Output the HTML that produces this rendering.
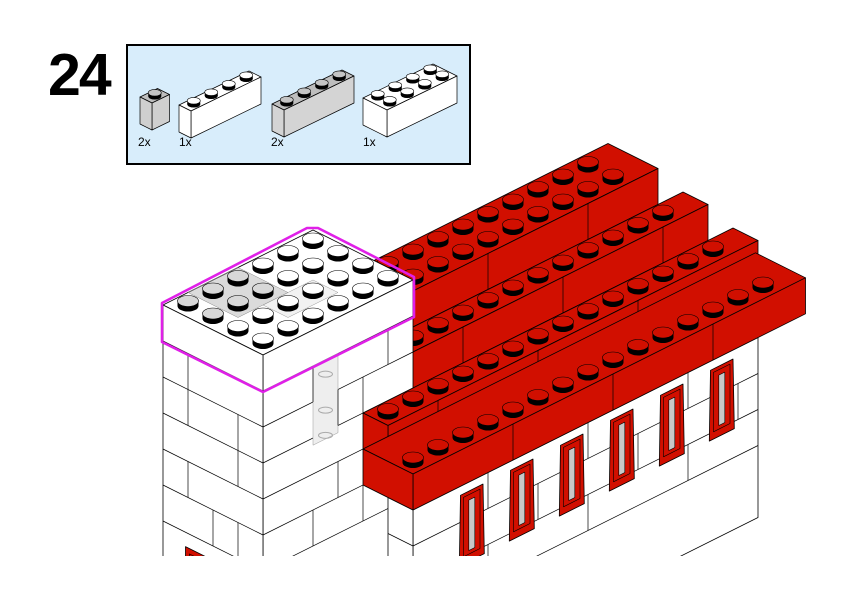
<!DOCTYPE html>
<html><head><meta charset="utf-8"><style>
html,body{margin:0;padding:0;background:#fff;width:842px;height:596px;overflow:hidden}
svg{display:block}
text{font-family:"Liberation Sans",Arial,sans-serif}
</style></head><body>
<svg id="s" width="842" height="596" viewBox="0 0 842 596" xmlns="http://www.w3.org/2000/svg">
<rect width="842" height="596" fill="#fff"/>
<text x="48" y="95" font-size="59" font-weight="bold" letter-spacing="-2">24</text>
<rect x="127" y="45" width="343" height="119" fill="#d8edfb" stroke="#000" stroke-width="2"/>
<g id="parts"></g>
<text x="138" y="146" font-size="12">2x</text>
<text x="179" y="146" font-size="12">1x</text>
<text x="271" y="146" font-size="12">2x</text>
<text x="363" y="146" font-size="12">1x</text>
<defs><clipPath id="cp"><rect x="0" y="0" width="842" height="556"/></clipPath></defs>
<g id="model" clip-path="url(#cp)"></g>
</svg>
<script>
var NS="http://www.w3.org/2000/svg";
function el(par,tag,at){var e=document.createElementNS(NS,tag);for(var k in at)e.setAttribute(k,at[k]);par.appendChild(e);return e;}
function pts(a){return a.map(function(p){return p[0].toFixed(1)+","+p[1].toFixed(1)}).join(" ");}
function poly(g,a,fill,sw,stroke){return el(g,"polygon",{points:pts(a),fill:fill,stroke:stroke||"#000","stroke-width":sw||0.8,"stroke-linejoin":"round"});}
function line(g,p,q,sw,c){el(g,"line",{x1:p[0],y1:p[1],x2:q[0],y2:q[1],stroke:c||"#000","stroke-width":sw||0.7});}
function stud(g,x,y,rx,ry,h,col){
  el(g,"ellipse",{cx:x,cy:y,rx:rx,ry:ry,fill:"#000"});
  el(g,"rect",{x:x-rx,y:y-h,width:2*rx,height:h,fill:"#000"});
  el(g,"ellipse",{cx:x,cy:y-h,rx:rx,ry:ry,fill:col,stroke:"#000","stroke-width":0.6});
}
/* ---------- main model ---------- */
var M=document.getElementById("model");
function P(a,b,h){return [263+25*a-25*b,355-12.5*a-12.5*b-36*h];}
function box(g,a0,a1,b0,b1,h0,h1,fill,topfill,leftfill){
  poly(g,[P(a0,b0,h1),P(a1,b0,h1),P(a1,b1,h1),P(a0,b1,h1)],topfill||fill);
  poly(g,[P(a0,b0,h0),P(a1,b0,h0),P(a1,b0,h1),P(a0,b0,h1)],fill);
  poly(g,[P(a0,b0,h0),P(a0,b1,h0),P(a0,b1,h1),P(a0,b0,h1)],leftfill||fill);
}
function mstud(g,a,b,h,col){var c=P(a,b,h);stud(g,c[0],c[1]+1,10.5,5.5,5,col);}
var RED="#d10f00";
function step(a1,b0,b1,h0,seams,rows){
  box(M,4,a1,b0,b1,h0,h0+1,RED);
  seams.forEach(function(s){line(M,P(s,b0,h0),P(s,b0,h0+1));});
  for(var r=0;r<rows;r++){
    for(var a=4.5;a<=a1-0.4;a+=1) mstud(M,a,b0+0.5+(rows-1-r),h0+1,RED);
  }
}
// back steps
step(16.8,1,3,-2,[10,14],2);
step(17.8,0,1,-3,[8,12,16],1);
// tower
box(M,0,6,0,4,-9,0,"#fff");
for(var k=1;k<=6;k++){line(M,P(0,4,-k),P(0,0,-k));line(M,P(0,0,-k),P(6,0,-k));}
[[3,-1,-2],[3,-2,-3],[1,-2,-3],[1,-3,-4],[3,-4,-5],[2,-5,-6],[1,-5,-6]].forEach(function(s){line(M,P(0,s[0],s[1]),P(0,s[0],s[2]));});
poly(M,[P(2,0,-1),P(3,0,-1),P(3,0,-3.2),P(2,0,-3.2)],"#eeeeee",0.5,"#999");
[[2,-1,-2],[5,-1,-2],[3,-2,-3],[4,-2,-3],[5,-3,-4],[3,-4,-5],[2,-5,-6],[4,-5,-6]].forEach(function(s){line(M,P(s[0],0,s[1]),P(s[0],0,s[2]));});
[[2.5,-1.4],[2.5,-2.4],[2.5,-3.1]].forEach(function(s){var c=P(s[0],0,s[1]);el(M,"ellipse",{cx:c[0],cy:c[1],rx:7,ry:3,fill:"none",stroke:"#aaa","stroke-width":1});});
// tower window
poly(M,[P(0,3.1,-6.4),P(0,1.5,-6.4),P(0,1.5,-8),P(0,3.1,-8)],RED,0.8);
poly(M,[P(0,2.95,-6.55),P(0,1.65,-6.55),P(0,1.65,-8),P(0,2.95,-8)],RED,0.6);
// top layer translucent shading
poly(M,[P(1,2,0),P(3,2,0),P(3,4,0),P(1,4,0)],"rgba(0,0,0,0.14)",0.5,"#888");
poly(M,[P(2,1,0),P(4,1,0),P(4,2,0),P(2,2,0)],"rgba(0,0,0,0.05)",0.5,"#999");
for(var a=0.5;a<6;a+=1)for(var b=3.5;b>0;b-=1){mstud(M,a,b,0,(a<3&&b>2)?"#d8d8d8":"#fff");}
// white wall under roof
box(M,4,17.8,-2,-1,-10,-5,"#fff");
[-6,-7,-8].forEach(function(h){line(M,P(4,-2,h),P(17.8,-2,h));line(M,P(4,-1,h),P(4,-2,h));});
[[7,-5,-6],[11,-5,-6],[15,-5,-6],[9,-6,-7],[13,-6,-7],[17,-6,-7],[7,-7,-8],[11,-7,-8],[15,-7,-8]].forEach(function(s){line(M,P(s[0],-2,s[1]),P(s[0],-2,s[2]));});
for(var n=0;n<6;n++){
  var a0=5.9+2*n;
  poly(M,[P(a0,-2,-5.25),P(a0+0.9,-2,-5.25),P(a0+0.95,-2,-7.2),P(a0-0.05,-2,-7.2)],RED,0.8);
  poly(M,[P(a0+0.12,-2,-5.35),P(a0+0.78,-2,-5.35),P(a0+0.78,-2,-7),P(a0+0.12,-2,-7)],RED,0.6);
  poly(M,[P(a0+0.33,-2,-5.5),P(a0+0.57,-2,-5.5),P(a0+0.57,-2,-6.9),P(a0+0.33,-2,-6.9)],"#c8c8c8",0.6);
}
// front steps
step(18.8,-1,0,-4,[6,10,14],1);
step(19.7,-2,0,-5,[8,12,16],1);
// magenta outline
el(M,"polygon",{points:"162,303 307,228 318,228 414,277 414,317 263,392 162,342",fill:"none",stroke:"#e020e8","stroke-width":2.6,"stroke-linejoin":"round"});
/* ---------- parts ---------- */
var G=document.getElementById("parts");
function pbrick(Fx,Fy,L,D,top,face,scol){
  var u=[17.5,-8.5],v=[-12,-6],H=27;
  function Q(a,b,h){return [Fx+u[0]*a+v[0]*b,Fy+u[1]*a+v[1]*b-H*h];}
  poly(G,[Q(0,0,1),Q(L,0,1),Q(L,D,1),Q(0,D,1)],top,0.7);
  poly(G,[Q(0,0,0),Q(L,0,0),Q(L,0,1),Q(0,0,1)],face,0.7);
  poly(G,[Q(0,0,0),Q(0,D,0),Q(0,D,1),Q(0,0,1)],face,0.7);
  for(var b=D-0.5;b>0;b-=1)for(var a=0.5;a<L;a+=1){var c=Q(a,b,1);stud(G,c[0],c[1]+0.5,6.5,3.3,3.5,scol);}
}
pbrick(152,130,1,1,"#bdbdbd","#cfcfcf","#c4c4c4");
pbrick(191,138,4,1,"#fff","#fff","#fff");
pbrick(284,137,4,1,"#bdbdbd","#d4d4d4","#c4c4c4");
pbrick(387,137,4,2,"#fff","#fff","#fff");
</script>
</body></html>
